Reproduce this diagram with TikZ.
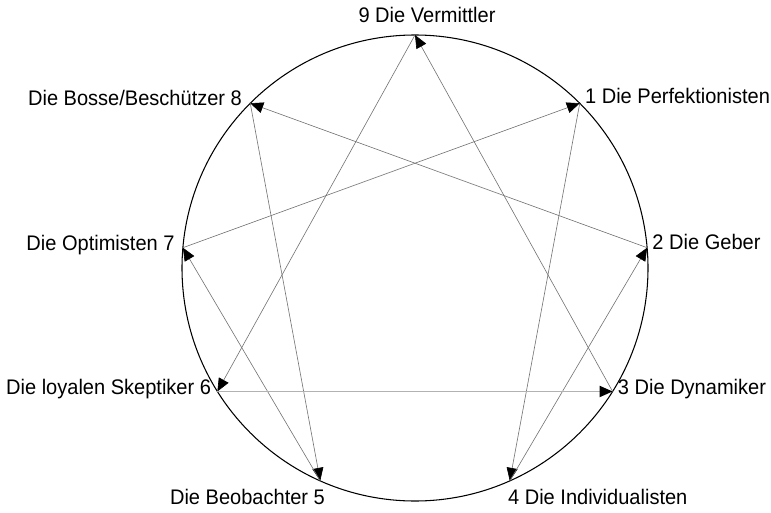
\documentclass[tikz,border=0pt]{standalone}
\usepackage{fontspec}
\setmainfont{Liberation Sans}[FakeStretch=0.95]
\usetikzlibrary{arrows.meta,calc}

\tikzset{
  kreis/.style={draw=black, line width=0.6pt},
  linie/.style={draw=black!55, line width=0.35pt,
    -{Triangle[length=2.6mm, width=2.2mm, color=black]}},
  hlinie/.style={linie, draw=black!30, line width=1.1pt},
  typ/.style={inner sep=0pt, font=\fontsize{12}{14}\selectfont}
}

\begin{document}
\begin{tikzpicture}
    \useasboundingbox (0,0) rectangle (15.42,10.24);

    % Kreis
    \coordinate (m) at (8.3,4.88);
    \draw[kreis] (m) circle (4.66);

    % Punkte auf dem Kreis
    \coordinate (p9) at ($(m)+(90:4.66)$);
    \coordinate (p1) at ($(m)+(45:4.66)$);
    \coordinate (p2) at ($(m)+(5:4.66)$);
    \coordinate (p3) at ($(m)+(-32:4.66)$);
    \coordinate (p4) at ($(m)+(-66:4.66)$);
    \coordinate (p5) at ($(m)+(-114:4.66)$);
    \coordinate (p6) at ($(m)+(-148:4.66)$);
    \coordinate (p7) at ($(m)+(175:4.66)$);
    \coordinate (p8) at ($(m)+(135:4.66)$);

    % Beschriftungen
    \node[typ, anchor=south, xshift=0.24cm, yshift=0.24cm] (l9) at (p9) {9 Die Vermittler};
    \node[typ, anchor=west, xshift=0.1cm, yshift=0.14cm] (l1) at (p1) {1 Die Perfektionisten};
    \node[typ, anchor=west, xshift=0.1cm, yshift=0.12cm] (l2) at (p2) {2 Die Geber};
    \node[typ, anchor=west, xshift=0.1cm, yshift=0.04cm] (l3) at (p3) {3 Die Dynamiker};
    \node[typ, anchor=north west, xshift=-0.04cm, yshift=-0.16cm] (l4) at (p4) {4 Die Individualisten};
    \node[typ, anchor=north east, xshift=0.1cm, yshift=-0.16cm] (l5) at (p5) {Die Beobachter 5};
    \node[typ, anchor=east, xshift=-0.12cm, yshift=0.04cm] (l6) at (p6) {Die loyalen Skeptiker 6};
    \node[typ, anchor=east, xshift=-0.16cm, yshift=0.06cm] (l7) at (p7) {Die Optimisten 7};
    \node[typ, anchor=east, xshift=-0.16cm, yshift=0.1cm] (l8) at (p8) {Die Bosse/Beschützer 8};

    % Sechseck-Linien 1-4-2-8-5-7-1
    \draw[linie] (p1) -- (p4);
    \draw[linie] (p4) -- (p2);
    \draw[linie] (p2) -- (p8);
    \draw[linie] (p8) -- (p5);
    \draw[linie] (p5) -- (p7);
    \draw[linie] (p7) -- (p1);

    % Dreieck 9-6-3-9
    \draw[linie] (p9) -- (p6);
    \draw[hlinie] (p6) -- (p3);
    \draw[linie] (p3) -- (p9);
\end{tikzpicture}
\end{document}
